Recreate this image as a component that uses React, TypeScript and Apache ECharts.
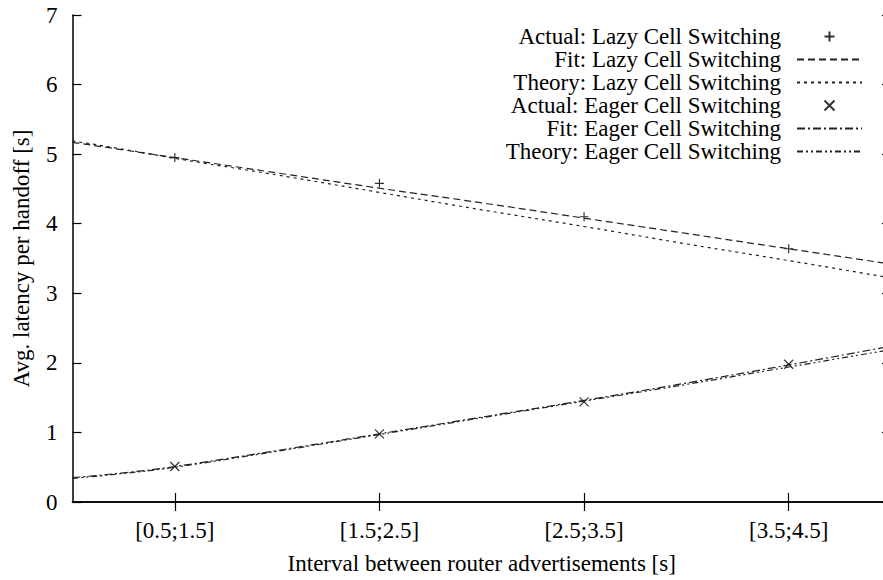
import React, { useEffect, useRef } from "react";
import * as echarts from "echarts";

const categories = ["[0.5;1.5]", "[1.5;2.5]", "[2.5;3.5]", "[3.5;4.5]"];
const positions = [1, 2, 3, 4];
const yTicks = [0, 1, 2, 3, 4, 5, 6, 7];

const lazyActual = [4.95, 4.58, 4.1, 3.64];
const eagerActual = [0.51, 0.98, 1.44, 1.98];

const curveX = [0.5, 0.75, 1, 1.5, 2, 2.5, 3, 3.5, 4, 4.5];
const lazyFit = [5.17, 5.06, 4.95, 4.73, 4.51, 4.3, 4.08, 3.86, 3.64, 3.42];
const lazyTheory = [5.19, 5.07, 4.94, 4.7, 4.45, 4.2, 3.96, 3.71, 3.47, 3.22];
const eagerFit = [0.35, 0.42, 0.51, 0.74, 0.98, 1.22, 1.46, 1.71, 1.97, 2.24];
const eagerTheory = [0.34, 0.41, 0.5, 0.73, 0.97, 1.21, 1.45, 1.69, 1.94, 2.19];

const seriesNames = [
  "Actual: Lazy Cell Switching",
  "Fit: Lazy Cell Switching",
  "Theory: Lazy Cell Switching",
  "Actual: Eager Cell Switching",
  "Fit: Eager Cell Switching",
  "Theory: Eager Cell Switching",
];

const FONT = "Liberation Serif";
const FS = 23;

const plusPath = "path://M0,5L10,5M5,0L5,10";
const crossPath = "path://M0,0L10,10M10,0L0,10";

export default function App() {
  const ref = useRef<HTMLDivElement>(null);
  useEffect(() => {
    if (!ref.current) return;
    const chart = echarts.init(ref.current, undefined, { renderer: "svg" });
    const pair = (xs: number[], ys: number[]) => xs.map((x, i) => [x, ys[i]]);
    const lineSeries = (name: string, ys: number[], type: any) => ({
      name,
      type: "line",
      data: pair(curveX, ys),
      symbol: "circle",
      showSymbol: false,
      smooth: true,
      clip: true,
      lineStyle: { color: "#222", width: 1.2, type },
      itemStyle: { color: "#222" },
    });
    const scatterSeries = (name: string, ys: number[], symbol: string) => ({
      name,
      type: "scatter",
      data: pair(positions, ys),
      symbol,
      symbolSize: 9,
      itemStyle: { color: "none", borderColor: "#000", borderWidth: 1.2 },
    });
    const tickCommon = {
      show: true,
      inside: true,
      length: 9,
      lineStyle: { color: "#000", width: 1.2 },
    };
    chart.setOption({
      animation: false,
      backgroundColor: "#fff",
      grid: { left: 72.5, right: 0, top: 15, bottom: 75, containLabel: false },
      legend: {
        orient: "vertical",
        align: "right",
        right: 23,
        top: 20,
        itemWidth: 65,
        itemHeight: 10,
        itemGap: 0,
        symbolKeepAspect: true,
        textStyle: {
          fontFamily: FONT,
          fontSize: FS,
          color: "#000",
          lineHeight: 23,
          width: 285,
          align: "right",
          padding: [0, 11, 0, 0],
        },
        data: seriesNames.map((name, i) =>
          i % 3 === 0 ? { name } : { name, itemStyle: { opacity: 0 } }
        ),
      },
      xAxis: [
        {
          type: "value",
          position: "bottom",
          min: 0.5,
          max: 4.5,
          name: "Interval between router advertisements [s]",
          nameLocation: "middle",
          nameGap: 50,
          nameTextStyle: { fontFamily: FONT, fontSize: FS, color: "#000" },
          axisLine: { show: true, lineStyle: { color: "#000", width: 1.5 } },
          axisTick: { ...tickCommon, customValues: positions },
          axisLabel: {
            customValues: positions,
            margin: 17,
            fontFamily: FONT,
            fontSize: FS,
            color: "#000",
            formatter: (v: number) => categories[positions.indexOf(v)] ?? "",
          },
          splitLine: { show: false },
        },
        {
          type: "value",
          position: "top",
          min: 0.5,
          max: 4.5,
          axisLine: { show: true, lineStyle: { color: "#000", width: 1.5 } },
          axisTick: { ...tickCommon, customValues: positions },
          axisLabel: { show: false },
          splitLine: { show: false },
        },
      ],
      yAxis: [
        {
          type: "value",
          position: "left",
          min: 0,
          max: 7,
          interval: 1,
          name: "Avg. latency per handoff [s]",
          nameLocation: "middle",
          nameGap: 40,
          nameTextStyle: { fontFamily: FONT, fontSize: FS, color: "#000" },
          axisLine: { show: true, lineStyle: { color: "#000", width: 1.5 } },
          axisTick: { ...tickCommon, customValues: yTicks },
          axisLabel: {
            margin: 15,
            fontFamily: FONT,
            fontSize: FS,
            color: "#000",
          },
          splitLine: { show: false },
        },
        {
          type: "value",
          position: "right",
          min: 0,
          max: 7,
          interval: 1,
          axisLine: { show: true, lineStyle: { color: "#000", width: 1.5 } },
          axisTick: { ...tickCommon },
          axisLabel: { show: false },
          splitLine: { show: false },
        },
      ],
      series: [
        scatterSeries(seriesNames[0], lazyActual, plusPath),
        lineSeries(seriesNames[1], lazyFit, [7, 4]),
        lineSeries(seriesNames[2], lazyTheory, [3, 4]),
        scatterSeries(seriesNames[3], eagerActual, crossPath),
        lineSeries(seriesNames[4], eagerFit, [8, 3, 2, 3]),
        lineSeries(seriesNames[5], eagerTheory, [6, 3, 2, 3, 2, 3]),
      ],
    });
    return () => chart.dispose();
  }, []);
  return (
    <div
      ref={ref}
      style={{ position: "fixed", left: 0, top: 0, width: 891, height: 580 }}
    />
  );
}
